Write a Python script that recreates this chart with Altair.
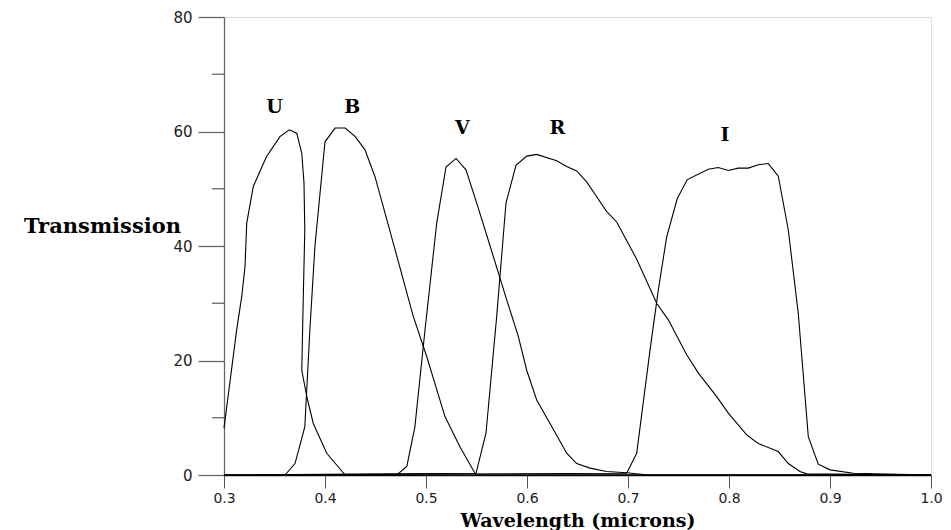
import altair as alt
import pandas as pd

# ---- data ----
U_wl = [0.300, 0.3125, 0.3175, 0.3208, 0.3225, 0.329, 0.342, 0.3554, 0.3647, 0.372, 0.377, 0.3792,
        0.380, 0.3785, 0.377, 0.382, 0.3884, 0.4017, 0.420, 1.0]
U_tr = [8.2, 25.3, 31.1, 36.4, 44.0, 50.4, 55.6, 59.1, 60.3, 59.7, 56.2, 51.0,
        42.8, 31.1, 18.3, 13.7, 9.0, 3.8, 0.0, 0.0]

B_wl = [0.300, 0.3604, 0.3703, 0.380, 0.385, 0.390, 0.400, 0.410, 0.420, 0.430, 0.4396, 0.4495,
        0.4676, 0.4874, 0.5007, 0.5188, 0.5337, 0.5495, 1.0]
B_tr = [0.0, 0.0, 2.0, 8.4, 25.3, 39.9, 58.2, 60.6, 60.6, 59.1, 56.8, 52.1,
        40.5, 27.7, 20.7, 10.2, 4.9, 0.0, 0.0]

V_wl = [0.300, 0.471, 0.481, 0.489, 0.499, 0.5106, 0.5198, 0.5297, 0.5396, 0.5502, 0.5617, 0.5799,
        0.5914, 0.5997, 0.6096, 0.6228, 0.6393, 0.6492, 0.6624, 0.6789, 0.6987, 0.720, 1.0]
V_tr = [0.0, 0.0, 1.5, 8.4, 25.3, 44.0, 53.8, 55.3, 53.3, 47.5, 41.0, 30.6,
        24.2, 18.3, 13.1, 9.0, 3.8, 2.0, 1.2, 0.6, 0.4, 0.0, 0.0]

R_wl = [0.300, 0.5495, 0.5594, 0.570, 0.5792, 0.5891, 0.5997, 0.6096, 0.6294, 0.6393, 0.6492, 0.6591,
        0.6690, 0.6789, 0.6888, 0.7086, 0.7284, 0.7399, 0.7581, 0.7697, 0.7878, 0.7993, 0.8175,
        0.829, 0.8488, 0.8587, 0.8703, 0.877, 1.0]
R_tr = [0.0, 0.3, 7.3, 27.7, 47.5, 54.1, 55.7, 56.0, 54.9, 53.9, 53.1, 51.2,
        48.6, 46.0, 44.2, 37.7, 30.0, 27.1, 21.0, 17.8, 13.7, 10.8, 7.0,
        5.5, 4.1, 2.0, 0.6, 0.2, 0.0]

I_wl = [0.300, 0.6987, 0.7086, 0.7218, 0.730, 0.7383, 0.7488, 0.7587, 0.7795, 0.7894, 0.7993, 0.8092,
        0.8191, 0.829, 0.8389, 0.8488, 0.8587, 0.8686, 0.8785, 0.8884, 0.900, 0.9231, 1.0]
I_tr = [0.0, 0.3, 3.8, 21.8, 32.3, 41.6, 48.3, 51.6, 53.4, 53.7, 53.2, 53.6,
        53.6, 54.2, 54.4, 52.2, 42.8, 28.2, 6.7, 1.9, 0.9, 0.3, 0.0]

band_names = ["U", "B", "V", "R", "I"]
label_x = [0.350, 0.427, 0.536, 0.630, 0.796]
label_y = [64.3, 64.3, 60.6, 60.6, 59.4]

x_ticks = [0.3, 0.4, 0.5, 0.6, 0.7, 0.8, 0.9, 1.0]
y_ticks = [0, 20, 40, 60, 80]
y_minor = [10, 30, 50, 70]

# ---- build tables ----
rows = []
for name, wl, tr in zip(band_names, [U_wl, B_wl, V_wl, R_wl, I_wl], [U_tr, B_tr, V_tr, R_tr, I_tr]):
    for i, (a, b) in enumerate(zip(wl, tr)):
        rows.append({"band": name, "wl": a, "tr": b, "idx": i})
df = pd.DataFrame(rows)
labels = pd.DataFrame({"band": band_names, "wl": label_x, "tr": label_y})
minor = pd.DataFrame({"tr": y_minor})

xscale = alt.Scale(domain=[0.3, 1.0], nice=False, zero=False)
yscale = alt.Scale(domain=[0, 80], nice=False)

lines = alt.Chart(df).mark_line(color="black", strokeWidth=1.1).encode(
    x=alt.X("wl:Q", scale=xscale,
            axis=alt.Axis(values=x_ticks, format=".1f", title="Wavelength (microns)",
                          grid=False, domainColor="#111", domainWidth=1.5,
                          tickColor="#555", tickSize=13, tickWidth=1,
                          labelFont="DejaVu Sans", labelFontSize=14, labelColor="#222",
                          labelPadding=3, labelFlush=False, labelOverlap=False,
                          titleFont="DejaVu Serif", titleFontWeight="bold", titleFontSize=19,
                          titleColor="black", titleY=51, titleBaseline="alphabetic")),
    y=alt.Y("tr:Q", scale=yscale,
            axis=alt.Axis(values=y_ticks, title="Transmission", grid=False,
                          domainColor="#666", domainWidth=1.3, tickColor="#666", tickSize=26,
                          tickWidth=1.3, labelFont="DejaVu Sans", labelFontSize=15,
                          labelColor="#222", labelPadding=6, labelOverlap=False,
                          titleFont="DejaVu Serif", titleFontWeight="bold", titleFontSize=21,
                          titleColor="black", titleAngle=0, titleX=-122, titleY=215,
                          titleAlign="center", titleBaseline="alphabetic")),
    detail="band:N",
    order="idx:Q",
)

minor_ticks = alt.Chart(minor).mark_rule(color="#666", strokeWidth=1.3).encode(
    y=alt.Y("tr:Q", scale=yscale),
    x=alt.value(-12),
    x2=alt.value(0),
)

texts = alt.Chart(labels).mark_text(font="DejaVu Serif", fontWeight="bold", fontSize=19,
                                    color="black", baseline="middle", align="center").encode(
    x=alt.X("wl:Q", scale=xscale),
    y=alt.Y("tr:Q", scale=yscale),
    text="band:N",
)

chart = alt.layer(lines, minor_ticks, texts).properties(
    width=707, height=458,
    autosize=alt.AutoSizeParams(type="none"),
    padding={"left": 216, "top": 9, "right": 12, "bottom": 55},
).configure_view(stroke=None).configure(background="white")

chart.save("out.html", embed_options={"renderer": "svg", "actions": False})
